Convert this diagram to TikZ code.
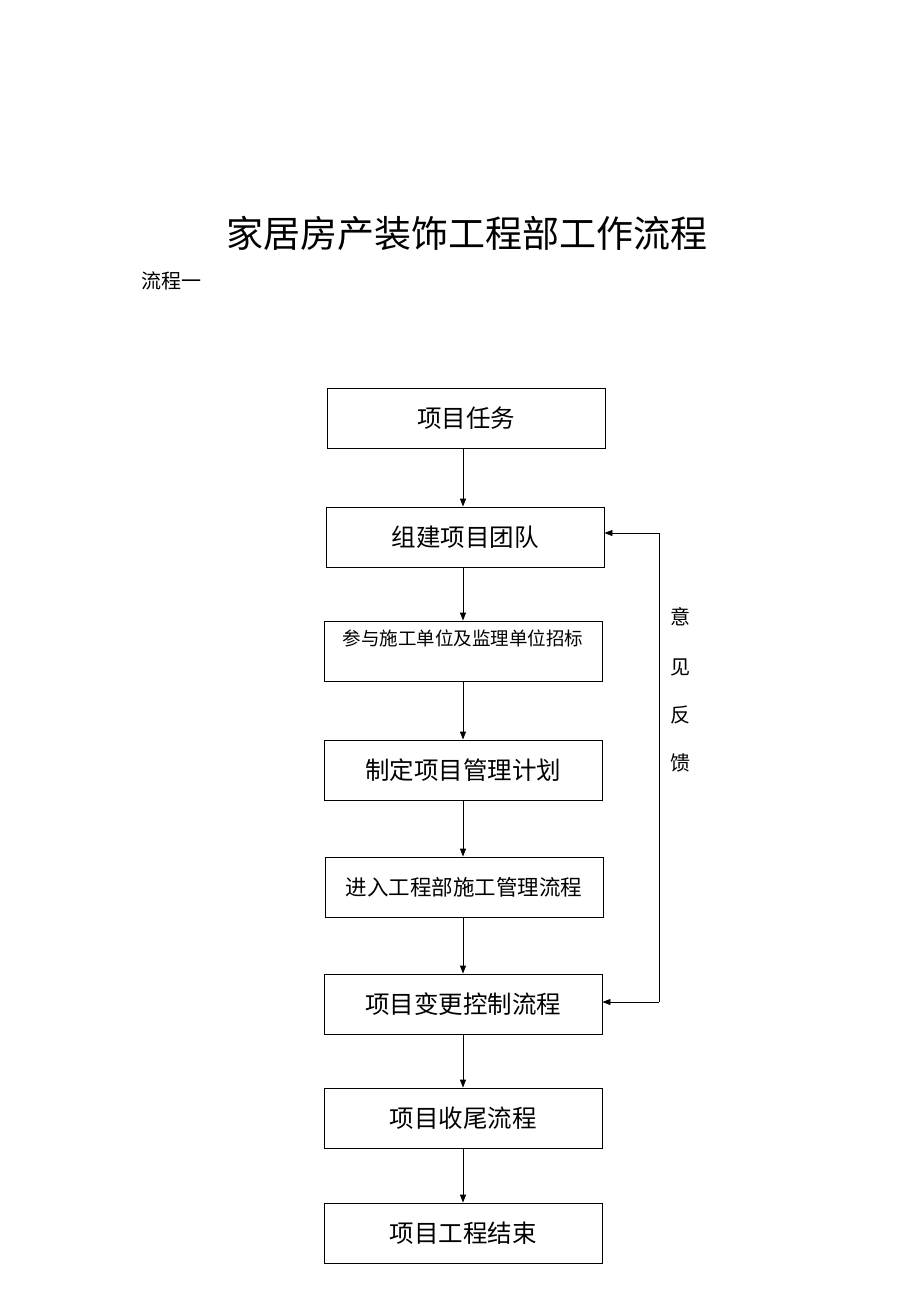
\documentclass[tikz,border=0pt]{standalone}
\usepackage{fontspec}
\newfontfamily\cjk{Noto Sans CJK SC}
\usetikzlibrary{arrows.meta}
\begin{document}
\begin{tikzpicture}[x=1pt,y=-1pt,
 box/.style={draw,line width=0.9pt,minimum width=278pt,minimum height=60pt,font=\cjk\fontsize{24.5}{28}\selectfont,inner sep=0},
 arr/.style={-{Triangle[length=8pt,width=6pt]},line width=0.9pt}]
\useasboundingbox[fill=white] (0,0) rectangle (920,1302);
\node[font=\cjk\fontsize{37}{42}\selectfont] (t) at (467,233) {家居房产装饰工程部工作流程};
\node[font=\cjk\fontsize{20}{24}\selectfont,anchor=west] (s) at (138,281) {流程一};
\node[box] (b1) at (466,418) {项目任务};
\node[box] (b2) at (465,537) {组建项目团队};
\node[box] (b3) at (463,651) {};
\node[font=\cjk\fontsize{18.5}{22}\selectfont] (b3t) at (463,638) {参与施工单位及监理单位招标};
\node[box] (b4) at (463,770) {制定项目管理计划};
\node[box,font=\cjk\fontsize{21.5}{25}\selectfont] (b5) at (464,887) {进入工程部施工管理流程};
\node[box] (b6) at (463,1004) {项目变更控制流程};
\node[box] (b7) at (463,1118) {项目收尾流程};
\node[box] (b8) at (463,1233) {项目工程结束};
\foreach \a/\b in {b1/b2,b2/b3,b3/b4,b4/b5,b5/b6,b6/b7,b7/b8}
  \draw[arr] (\a.south-|463,0) -- (\b.north-|463,0);
\coordinate (c1) at (659,1002);
\coordinate (c2) at (659,533);
\draw[line width=0.9pt] (c1) -- (c2);
\draw[arr] (c2) -- (b2.east|-c2);
\draw[arr] (c1) -- (b6.east|-c1);
\foreach \ch/\y [count=\i] in {意/617,见/667,反/715,馈/763}
  \node[font=\cjk\fontsize{20}{24}\selectfont] (f\i) at (680,\y) {\ch};
\end{tikzpicture}
\end{document}
